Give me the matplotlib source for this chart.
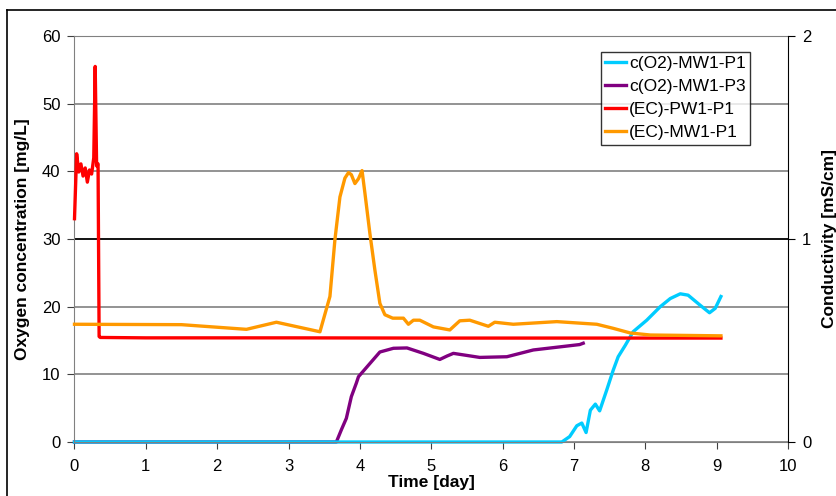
import matplotlib
matplotlib.use('Agg')
from matplotlib import pyplot as plt
from matplotlib.lines import Line2D
import numpy as np

plt.rcParams['font.family'] = ['Liberation Sans', 'DejaVu Sans']

# c(O2)-MW1-P1 [mg/L]
o2_p1_t = [0.0, 6.83, 6.94, 7.04, 7.11, 7.17, 7.23, 7.30, 7.36, 7.46, 7.55, 7.62, 7.72,
           7.83, 8.02, 8.21, 8.35, 8.49, 8.60, 8.77, 8.90, 8.98, 9.06]
o2_p1 = [0.0, 0.0, 0.8, 2.4, 2.8, 1.4, 4.7, 5.6, 4.6, 7.7, 10.6, 12.6, 14.3,
         16.3, 18.0, 20.0, 21.2, 21.9, 21.7, 20.2, 19.1, 19.75, 21.5]

# c(O2)-MW1-P3 [mg/L]
o2_p3_t = [0.0, 3.67, 3.74, 3.81, 3.88, 3.95, 3.98, 4.14, 4.28, 4.47, 4.66, 4.89, 5.12,
           5.22, 5.31, 5.68, 6.06, 6.43, 7.08, 7.13]
o2_p3 = [0.0, 0.0, 1.8, 3.5, 6.7, 8.7, 9.65, 11.6, 13.3, 13.85, 13.9, 13.1, 12.2,
         12.7, 13.1, 12.5, 12.6, 13.6, 14.4, 14.6]

# (EC)-PW1-P1 [mS/cm]
ec_pw_t = [0.0, 0.03, 0.06, 0.09, 0.12, 0.15, 0.18, 0.21, 0.24, 0.27, 0.29, 0.31, 0.33,
           0.345, 0.36, 1.0, 3.0, 5.0, 7.0, 9.06]
ec_pw = [1.10, 1.42, 1.33, 1.37, 1.31, 1.35, 1.28, 1.34, 1.32, 1.40, 1.85, 1.36, 1.37,
         0.52, 0.515, 0.513, 0.513, 0.512, 0.512, 0.512]

# (EC)-MW1-P1 [mS/cm]
ec_mw_t = [0.0, 1.5, 2.41, 2.83, 3.44, 3.58, 3.65, 3.72, 3.79, 3.84, 3.88, 3.93, 3.98,
           4.03, 4.07, 4.14, 4.21, 4.28, 4.35, 4.46, 4.61, 4.68, 4.75, 4.84, 5.03,
           5.26, 5.40, 5.54, 5.80, 5.89, 6.15, 6.76, 7.32, 7.55, 7.79, 8.07, 9.06]
ec_mw = [0.580, 0.578, 0.555, 0.590, 0.543, 0.717, 0.997, 1.207, 1.300, 1.327, 1.317,
         1.273, 1.297, 1.337, 1.227, 1.027, 0.847, 0.683, 0.627, 0.610, 0.610, 0.580,
         0.600, 0.600, 0.567, 0.552, 0.597, 0.600, 0.570, 0.590, 0.580, 0.593, 0.580,
         0.560, 0.537, 0.527, 0.523]

fig = plt.figure(figsize=(8.37, 4.96), dpi=100)
ax = fig.add_axes([74.5 / 837, 1 - 442 / 496, (788 - 74.5) / 837, (442 - 36) / 496])
ax2 = ax.twinx()

l1, = ax.plot(o2_p3_t, o2_p3, color='#800080', lw=2.4, label='c(O2)-MW1-P3')
l0, = ax.plot(o2_p1_t, o2_p1, color='#00CCFF', lw=2.4, label='c(O2)-MW1-P1')
l2, = ax2.plot(ec_pw_t, ec_pw, color='#FF0000', lw=2.4, label='(EC)-PW1-P1')
l3, = ax2.plot(ec_mw_t, ec_mw, color='#FF9900', lw=2.4, label='(EC)-MW1-P1')
for l in (l0, l1, l2, l3):
    l.set_clip_on(False)

ax.set_xlim(0, 10)
ax.set_ylim(0, 60)
ax2.set_ylim(0, 2)
ax.set_xticks(np.arange(0, 11, 1))
ax.set_yticks(np.arange(0, 61, 10))
ax2.set_yticks([0, 1, 2])

ax.yaxis.grid(True, color='#808080', lw=1.2)
ax.axhline(30, color='black', lw=1.2)
ax.set_axisbelow(True)

ax.spines['left'].set_color('#808080')
ax.spines['bottom'].set_color('#808080')
ax.spines['top'].set_color('#808080')
ax.spines['right'].set_visible(False)
ax2.spines['left'].set_visible(False)
ax2.spines['bottom'].set_visible(False)
ax2.spines['top'].set_visible(False)
ax2.spines['right'].set_color('black')

ax.tick_params(axis='y', labelsize=12, length=5, color='#404040', pad=5)
ax.tick_params(axis='x', labelsize=12, length=5, color='#404040', pad=7)
ax2.tick_params(axis='y', labelsize=12, length=5, color='black', pad=5)

ax.set_xlabel('Time [day]', fontsize=12.5, fontweight='bold', labelpad=1)
ax.set_ylabel('Oxygen concentration [mg/L]', fontsize=12.5, fontweight='bold', labelpad=8.5)
ax2.set_ylabel('Conductivity [mS/cm]', fontsize=12.5, fontweight='bold', labelpad=8)

leg = ax2.legend(handles=[l0, l1, l2, l3], loc='upper left',
                 bbox_to_anchor=((600.5 - 74.5) / 713.5, (442 - 52) / 406),
                 fontsize=12.5, frameon=True, fancybox=False, handlelength=1.2,
                 handletextpad=0.2, borderpad=0.25, labelspacing=0.45, borderaxespad=0)
leg.get_frame().set_edgecolor('black')
leg.get_frame().set_linewidth(1.0)

# outer chart frame
fig.add_artist(Line2D([7 / 837, 1.0], [1 - 10 / 496, 1 - 10 / 496], color='black', lw=1.2))
fig.add_artist(Line2D([7 / 837, 7 / 837], [0.0, 1 - 10 / 496], color='black', lw=1.2))

fig.savefig('out.png', dpi=100)
